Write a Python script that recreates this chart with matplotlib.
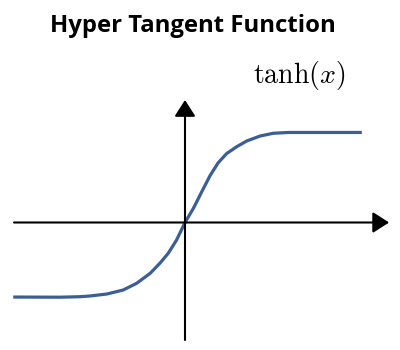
import matplotlib
matplotlib.use("Agg")
import matplotlib.pyplot as plt

# points
x_vals = [-4.09, -2.98, -2.50, -2.26, -1.86, -1.47, -1.15, -0.83, -0.60,
          -0.40, -0.20, 0.0, 0.20, 0.40, 0.60, 0.79, 0.99, 1.23, 1.47,
          1.79, 2.10, 2.46, 3.21, 4.21]
y_vals = [-0.909, -0.911, -0.905, -0.896, -0.872, -0.823, -0.741, -0.620,
          -0.498, -0.376, -0.213, 0.0, 0.173, 0.376, 0.575, 0.728, 0.840,
          0.924, 0.994, 1.055, 1.088, 1.098, 1.098, 1.098]

title = "Hyper Tangent Function"
curve_label = r"$\tanh(x)$"

plt.rcParams["mathtext.fontset"] = "cm"

fig = plt.figure(figsize=(4, 3.5), dpi=100)
ax = fig.add_axes([0, 0, 1, 1])
ax.set_xlim(-185 / 42, 215 / 42)
ax.set_ylim(-127.5 / 82, 222.5 / 82)
ax.axis("off")

# axes with arrow heads
arrow = dict(arrowstyle="-|>,head_length=0.5,head_width=0.32", lw=1.5,
             color="black", mutation_scale=20, shrinkA=0, shrinkB=0)
ax.annotate("", xy=(4.86, 0), xytext=(-4.07, 0), arrowprops=arrow)
ax.annotate("", xy=(0, 1.494), xytext=(0, -1.433), arrowprops=arrow)

ax.plot(x_vals, y_vals, color="#3b5e95", lw=2.3, solid_capstyle="butt",
        solid_joinstyle="round")

fig.text(0.481, 1 - 31.5 / 350, title, ha="center", va="baseline",
         fontsize=17.2, fontweight="bold", family="Open Sans")
fig.text(0.7475, 1 - 82.5 / 350, curve_label, ha="center", va="baseline",
         fontsize=20)

fig.savefig("out.png", dpi=100)
